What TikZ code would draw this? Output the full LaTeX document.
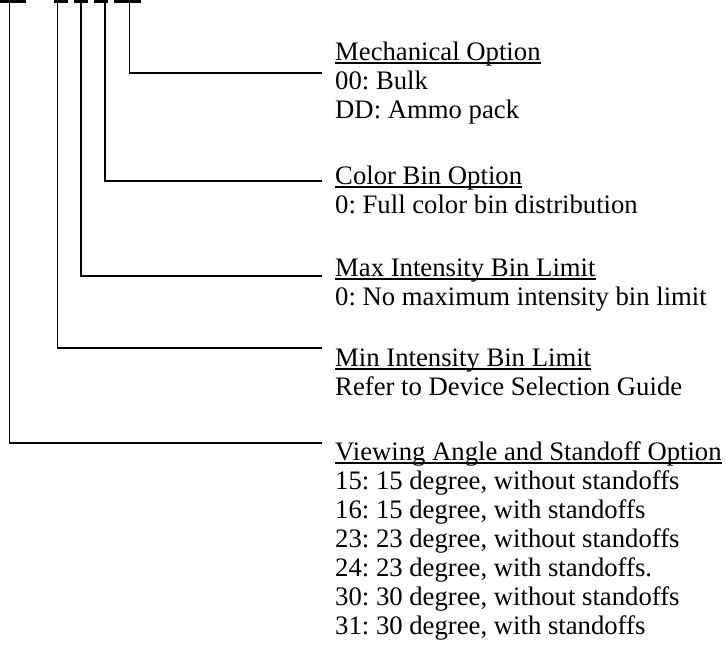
\documentclass[tikz,border=0pt]{standalone}
\usepackage{fontspec}
\setmainfont{Liberation Serif}
\frenchspacing
\newcommand{\myul}[1]{\setbox0\hbox{#1}\rlap{\rule[-3.8pt]{\wd0}{1.4pt}}\box0}
\begin{document}
\begin{tikzpicture}[x=1pt,y=-1pt,
  txt/.style={anchor=base west,inner sep=0pt,font=\fontsize{26.7}{29}\selectfont},
  bar/.style={line width=2.6pt},
  conn/.style={line width=1.5pt,line cap=rect}]
\useasboundingbox (0,0) rectangle (726,648);
% top bars
\draw[bar] (0,1.3) -- (26,1.3);
\draw[bar] (54,1.3) -- (68,1.3);
\draw[bar] (74,1.3) -- (88,1.3);
\draw[bar] (94,1.3) -- (108,1.3);
\draw[bar] (114,1.3) -- (141,1.3);
% tops of connectors
\coordinate (tV) at (9.5,1.3);
\coordinate (tMin) at (57.5,1.3);
\coordinate (tMax) at (81,1.3);
\coordinate (tC) at (105,1.3);
\coordinate (tM) at (129.5,1.3);
% connector ends
\coordinate (eM) at (321,73);
\coordinate (eC) at (321,181);
\coordinate (eMax) at (321,276);
\coordinate (eMin) at (321,348);
\coordinate (eV) at (321,443);
% texts
\node[txt] (m0) at (335,60) {\myul{Mechanical Option}};
\node[txt] (m1) at (335,89) {00: Bulk};
\node[txt] (m2) at (335,118) {DD: Ammo pack};
\node[txt] (c0) at (335,184) {\myul{Color Bin Option}};
\node[txt] (c1) at (335,213) {0: Full color bin distribution};
\node[txt] (x0) at (335,276) {\myul{Max Intensity Bin Limit}};
\node[txt] (x1) at (335,305) {0: No maximum intensity bin limit};
\node[txt] (n0) at (335,366) {\myul{Min Intensity Bin Limit}};
\node[txt] (n1) at (335,395) {Refer to Device Selection Guide};
\node[txt] (v0) at (335,460) {\myul{Viewing Angle and Standoff Option}};
\node[txt] (v1) at (335,489) {15: 15 degree, without standoffs};
\node[txt] (v2) at (335,518) {16: 15 degree, with standoffs};
\node[txt] (v3) at (335,547) {23: 23 degree, without standoffs};
\node[txt] (v4) at (335,576) {24: 23 degree, with standoffs.};
\node[txt] (v5) at (335,605) {30: 30 degree, without standoffs};
\node[txt] (v6) at (335,634) {31: 30 degree, with standoffs};
% connectors
\draw[conn] (tM) |- (eM);
\draw[conn] (tC) |- (eC);
\draw[conn] (tMax) |- (eMax);
\draw[conn] (tMin) |- (eMin);
\draw[conn] (tV) |- (eV);
\end{tikzpicture}
\end{document}
